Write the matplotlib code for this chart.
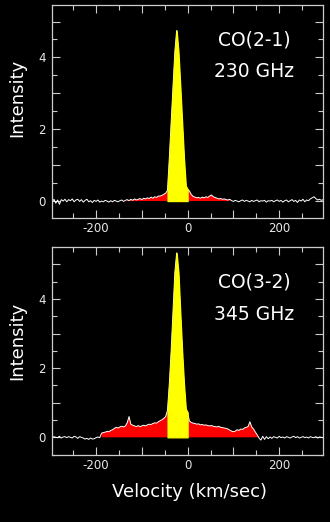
import numpy as np
import matplotlib.pyplot as plt
from matplotlib.ticker import MultipleLocator, FuncFormatter

# velocity channels (km/sec), 4 km/sec apart
velocity = np.arange(-300, 301, 4)

# CO(2-1) spectrum, one row per 40 km/sec
co21 = [
    0.02, -0.03, 0.05, -0.06, 0.03, -0.09, 0.04, 0.00, 0.05, -0.02,   # -300
    0.04, 0.01, 0.06, -0.02, 0.03, 0.05, -0.01, 0.04, -0.03, 0.02,    # -260
    0.05, -0.02, 0.01, -0.04, 0.02, -0.01, 0.03, -0.03, 0.00, -0.02,  # -220
    0.02, 0.00, -0.03, 0.01, -0.02, 0.02, 0.00, -0.02, 0.01, 0.03,    # -180
    -0.01, 0.02, 0.04, 0.01, 0.05, 0.02, 0.06, 0.03, 0.05, 0.07,      # -140
    0.04, 0.08, 0.06, 0.09, 0.07, 0.11, 0.08, 0.12, 0.10, 0.14,       # -100
    0.14, 0.16, 0.19, 0.22, 0.30, 1.20, 2.20, 3.20, 4.15, 4.75,       # -60
    4.15, 3.20, 2.20, 1.20, 0.42, 0.33, 0.28, 0.18, 0.13, 0.11,       # -20
    0.09, 0.10, 0.08, 0.11, 0.09, 0.12, 0.10, 0.14, 0.17, 0.12,       # 20
    0.10, 0.08, 0.06, 0.07, 0.05, 0.06, 0.04, 0.03, 0.05, 0.01,       # 60
    -0.01, 0.02, 0.00, -0.02, 0.01, 0.03, -0.01, 0.02, 0.00, -0.02,   # 100
    0.02, -0.01, 0.01, 0.03, -0.02, 0.01, 0.00, 0.02, -0.03, 0.01,    # 140
    0.00, 0.02, -0.02, 0.01, 0.03, -0.01, 0.02, -0.03, 0.01, 0.03,    # 180
    -0.02, 0.01, 0.04, -0.01, 0.02, -0.04, 0.03, 0.00, 0.05, -0.02,   # 220
    0.03, 0.01, 0.06, 0.09, 0.12, 0.07, 0.03, 0.05, 0.02, 0.04,       # 260
    0.03,                                                             # 300
]

# CO(3-2) spectrum
co32 = [
    0.01, -0.02, 0.02, 0.00, -0.01, 0.03, -0.02, 0.01, 0.02, -0.01,   # -300
    0.02, 0.00, -0.02, 0.03, 0.01, -0.03, 0.02, 0.00, -0.02, -0.05,   # -260
    -0.03, -0.06, -0.02, -0.05, -0.04, -0.01, 0.01, -0.01, 0.12, 0.14,  # -220
    0.15, 0.17, 0.16, 0.20, 0.22, 0.26, 0.29, 0.27, 0.30, 0.32,       # -180
    0.30, 0.33, 0.42, 0.60, 0.38, 0.35, 0.33, 0.31, 0.34, 0.31,       # -140
    0.33, 0.35, 0.33, 0.36, 0.38, 0.37, 0.40, 0.42, 0.41, 0.45,       # -100
    0.48, 0.51, 0.55, 0.60, 0.78, 1.55, 2.50, 3.60, 4.75, 5.33,       # -60
    4.75, 3.60, 2.50, 1.55, 0.82, 0.72, 0.47, 0.43, 0.41, 0.40,       # -20
    0.38, 0.39, 0.36, 0.37, 0.35, 0.36, 0.34, 0.33, 0.34, 0.32,       # 20
    0.31, 0.30, 0.32, 0.29, 0.28, 0.27, 0.26, 0.24, 0.21, 0.18,       # 60
    0.16, 0.18, 0.22, 0.20, 0.24, 0.23, 0.27, 0.29, 0.31, 0.45,       # 100
    0.30, 0.24, 0.15, 0.07, -0.02, -0.08, 0.03, -0.06, 0.02, -0.04,   # 140
    0.01, -0.03, 0.02, 0.00, -0.02, 0.03, -0.01, 0.01, -0.02, 0.02,   # 180
    0.00, -0.02, 0.01, 0.03, -0.01, 0.02, -0.02, 0.00, 0.02, -0.01,   # 220
    0.01, -0.02, 0.02, 0.00, -0.01, 0.02, -0.02, 0.01, 0.00, -0.01,   # 260
    0.01,                                                             # 300
]

labels = [("CO(2-1)", "230 GHz"), ("CO(3-2)", "345 GHz")]
core_range = (-44, 0)                  # yellow, narrow component
wing_ranges = [(-132, 92), (-188, 156)]  # red, broad wings

fg = "#e8e8e8"
fig = plt.figure(figsize=(3.3, 5.22), dpi=100, facecolor="black")
ax1 = fig.add_axes([0.1566, 0.5818, 0.8212, 0.4086])
ax2 = fig.add_axes([0.1566, 0.1284, 0.8212, 0.3990])

def fmt_x(x, pos):
    return "%d" % x if abs(x) % 200 == 0 and abs(x) < 300 else ""

def fmt_y(y, pos):
    return "%d" % y if int(round(y)) % 2 == 0 else ""

for ax, spec, (line1, line2), wing, ylim, ty in zip(
        [ax1, ax2], [co21, co32], labels, wing_ranges,
        [(-0.48, 5.46), (-0.51, 5.51)], [(0.808, 0.664), (0.803, 0.648)]):
    spec = np.array(spec)
    ax.set_facecolor("black")
    in_core = (velocity >= core_range[0]) & (velocity <= core_range[1])
    in_wing = (velocity >= wing[0]) & (velocity <= wing[1]) & \
              ~((velocity > core_range[0]) & (velocity < core_range[1]))
    ax.fill_between(velocity, 0, np.clip(spec, 0, None), where=in_wing,
                    color="#ff0000", lw=0, zorder=1)
    ax.plot(velocity, spec, color="white", lw=0.7, zorder=2)
    # yellow core drawn over the white trace, with a matching edge
    ax.fill_between(velocity, 0, spec, where=in_core,
                    facecolor="#ffff00", edgecolor="#ffff00", lw=0.9, zorder=3)

    ax.set_xlim(-297, 295)
    ax.set_ylim(*ylim)
    ax.xaxis.set_major_locator(MultipleLocator(100))
    ax.xaxis.set_minor_locator(MultipleLocator(50))
    ax.yaxis.set_major_locator(MultipleLocator(1))
    ax.yaxis.set_minor_locator(MultipleLocator(0.5))
    ax.xaxis.set_major_formatter(FuncFormatter(fmt_x))
    ax.yaxis.set_major_formatter(FuncFormatter(fmt_y))
    ax.tick_params(which="both", direction="in", top=True, right=True,
                   color="#cccccc", labelcolor=fg, labelsize=8.5)
    ax.tick_params(which="major", length=5.5, width=0.8)
    ax.tick_params(which="minor", length=3.5, width=0.8)
    ax.tick_params(axis="x", pad=3)
    ax.tick_params(axis="y", pad=4.5)
    for s in ax.spines.values():
        s.set_color("#cccccc")
        s.set_linewidth(0.9)

    ax.text(0.748, ty[0], line1, transform=ax.transAxes, color="white",
            fontsize=13.5, ha="center", va="baseline")
    ax.text(0.748, ty[1], line2, transform=ax.transAxes, color="white",
            fontsize=13.5, ha="center", va="baseline")

fig.text(22.5 / 330, 1 - 97.5 / 522, "Intensity", color="white", fontsize=13,
         rotation=90, rotation_mode="anchor", ha="center", va="baseline")
fig.text(22.5 / 330, 1 - 340.8 / 522, "Intensity", color="white", fontsize=13,
         rotation=90, rotation_mode="anchor", ha="center", va="baseline")
fig.text(189 / 330, 1 - 497 / 522, "Velocity (km/sec)", color="white",
         fontsize=13, ha="center", va="baseline")

fig.savefig("out.png", dpi=100, facecolor="black")
